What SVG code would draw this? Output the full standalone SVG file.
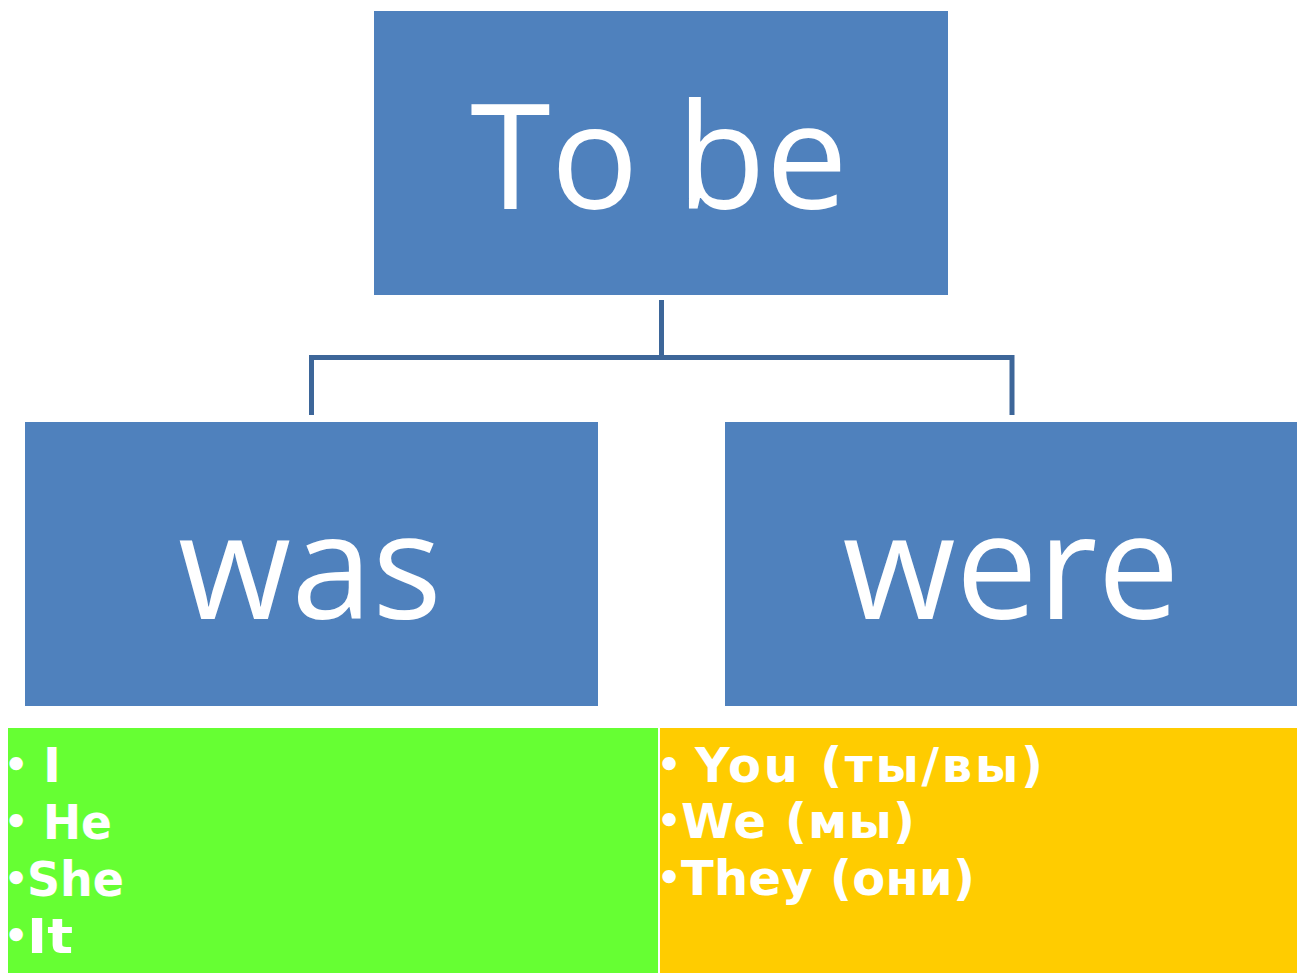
<svg xmlns="http://www.w3.org/2000/svg" width="1297" height="973" viewBox="0 0 1297 973">
<style>
.box{fill:#4F81BD;}
.big{font-family:"Open Sans","Noto Sans",sans-serif;font-size:146px;fill:#fff;text-anchor:middle;}
.lst{font-family:"DejaVu Sans",Verdana,sans-serif;font-weight:bold;font-size:48px;fill:#fff;}
.bul{font-family:"DejaVu Sans",Verdana,sans-serif;font-weight:bold;font-size:38px;fill:#fff;}
.conn{fill:none;stroke:#3D6699;stroke-width:5;}
</style>
<rect width="1297" height="973" fill="#fff"/>
<g id="connectors">
<path class="conn" d="M661.5,300 V357.5 M311.5,415 V357.5 H1012 V415"/>
</g>
<g id="node-tobe">
<rect class="box" x="374" y="11" width="574" height="284"/>
<text class="big" x="659" y="209">To be</text>
</g>
<g id="node-was">
<rect class="box" x="25" y="422" width="573" height="284"/>
<text class="big" x="310" y="619">was</text>
</g>
<g id="node-were">
<rect class="box" x="725" y="422" width="572" height="284"/>
<text class="big" x="1011" y="619">were</text>
</g>
<g id="list-was">
<rect x="8" y="728" width="650" height="245" fill="#66FF33"/>
<text class="bul" x="4" y="778">•</text>
<text class="lst" x="43" y="782">I</text>
<text class="bul" x="4" y="835">•</text>
<text class="lst" x="43" y="839" textLength="69" lengthAdjust="spacingAndGlyphs">He</text>
<text class="bul" x="4" y="892">•</text>
<text class="lst" x="27" y="896" textLength="97" lengthAdjust="spacingAndGlyphs">She</text>
<text class="bul" x="4" y="949">•</text>
<text class="lst" x="27" y="953" textLength="46" lengthAdjust="spacingAndGlyphs">It</text>
</g>
<g id="list-were">
<rect x="660" y="728" width="637" height="245" fill="#FFCC00"/>
<text class="bul" x="657" y="778">•</text>
<text class="lst" x="695" y="782" textLength="348" lengthAdjust="spacing">You (ты/вы)</text>
<text class="bul" x="657" y="834">•</text>
<text class="lst" x="681" y="838" textLength="234" lengthAdjust="spacing">We (мы)</text>
<text class="bul" x="657" y="891">•</text>
<text class="lst" x="681" y="895" textLength="294" lengthAdjust="spacing">They (они)</text>
</g>
</svg>
